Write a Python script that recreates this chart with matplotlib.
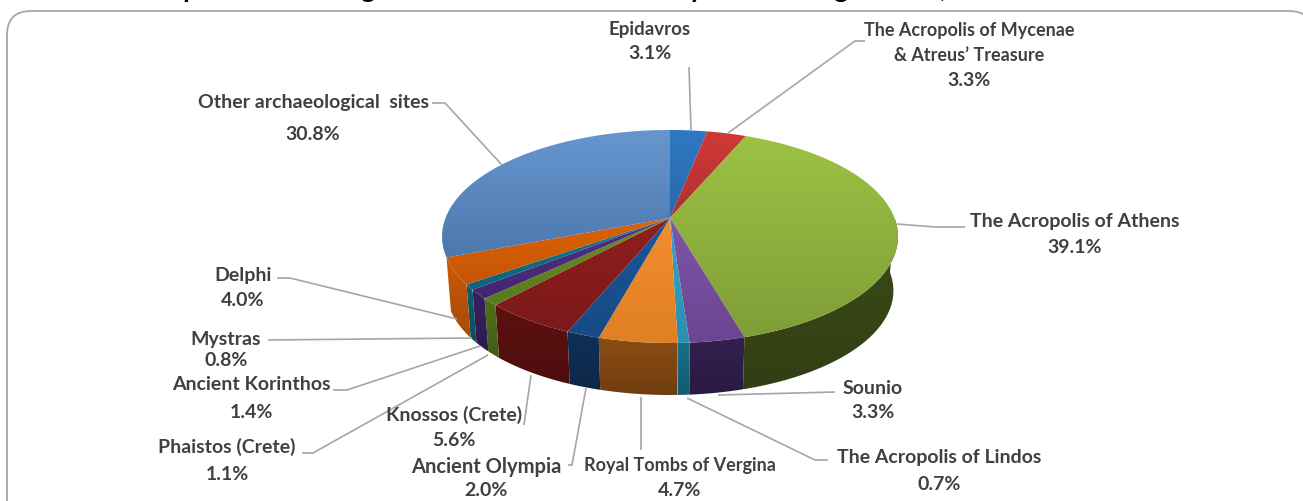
"""Visitors by archaeological site, 3D-look pie with leader lines."""
import matplotlib
matplotlib.use("Agg")
import matplotlib.pyplot as plt
import numpy as np
from matplotlib.colors import to_rgb
from matplotlib.patches import FancyBboxPatch, Polygon

sites = ["Epidavros", "The Acropolis of Mycenae\n& Atreus’ Treasure", "The Acropolis of Athens",
         "Sounio", "The Acropolis of Lindos", "Royal Tombs of Vergina", "Ancient Olympia",
         "Knossos (Crete)", "Phaistos (Crete)", "Ancient Korinthos", "Mystras", "Delphi",
         "Other archaeological  sites"]
shares = [3.1, 3.3, 39.1, 3.3, 0.7, 4.7, 2.0, 5.6, 1.1, 1.4, 0.8, 4.0, 30.8]

top_light = ["#2f78c4", "#cf3a38", "#9cc243", "#7f55aa", "#35a6c8", "#f48e2e", "#1a5699",
             "#8f1f1f", "#6b8e23", "#52308a", "#10788f", "#dc6206", "#6796cf"]
top_dark = ["#2a68a8", "#b03030", "#7f9e38", "#6a4590", "#2c8fae", "#e07f25", "#164a85",
            "#7c1919", "#5a7a1c", "#442670", "#0c6478", "#c45505", "#4c78ad"]
wall = ["#1f4f80", "#802020", "#3c4c18", "#33204f", "#17708a", "#8a4c14", "#0f3058",
        "#5e1010", "#50701c", "#38205f", "#0e5f70", "#cc5a08", "#3a5f8c"]

# label anchor (centre x, first line y, line gap, name font size), all in image pixels
label_pos = [(650, 29, 24, 13.5), (969, 30, 25, 13), (1075, 221, 26, 14), (873, 389, 23, 14),
             (939, 457, 27, 14), (680, 466, 24, 13), (486, 467, 24, 14.5), (454, 415, 26, 14),
             (227, 447, 27, 14), (251, 385, 27, 14), (226, 339, 22, 14), (243, 276, 24, 14),
             (313, 102, 32, 14)]
leaders = [[(689, 67), (691, 130)],
           [(865, 41), (855, 41), (728, 133)],
           [(965, 227), (935, 227), (897, 224)],
           [(835, 392), (718, 395)],
           [(828, 460), (815, 460), (687, 398)],
           [(641, 397), (641, 450)],
           [(586, 388), (572, 465), (568, 465)],
           [(531, 375), (524, 425)],
           [(302, 453), (313, 453), (488, 355)],
           [(333, 390), (347, 390), (480, 346)],
           [(268, 340), (472, 338)],
           [(277, 278), (290, 278), (457, 319)],
           [(432, 103), (445, 103), (502, 165)]]

# pieces of the title that survive the crop at the top edge
title_bits = [("p", 190), ("g", 368), ("y", 696), ("g", 841), (",", 943)]

INK = "#404040"
LEADER = "#a6a6a6"

CX, CY = 670, 218
A, B, K = 224.5, 103.3, 0.1737
DEPTH_S, DEPTH_Y = 0.98, 272.5

plt.rcParams["font.family"] = ["Lato", "DejaVu Sans"]

fig = plt.figure(figsize=(13.03, 5.01), dpi=100)
ax = fig.add_axes([0, 0, 1, 1])
ax.set_xlim(0, 1303)
ax.set_ylim(501, 0)
ax.axis("off")


def rim(t, scale=1.0, y0=CY):
    # t = fraction clockwise from 12 o'clock, projected with a bit of perspective
    ang = np.asarray(t) * 2 * np.pi
    u, v = np.sin(ang), np.cos(ang)
    w = 1 + K * v
    return CX + scale * A * u / w, y0 - scale * B * v / w


def fill_grad(pts, c0, c1):
    pts = np.asarray(pts)
    x0, x1, y0, y1 = pts[:, 0].min(), pts[:, 0].max(), pts[:, 1].min(), pts[:, 1].max()
    ramp = np.linspace(0, 1, 64)[:, None, None]
    img = (1 - ramp) * np.array(to_rgb(c0)) + ramp * np.array(to_rgb(c1))
    patch = Polygon(pts, closed=True, fc="none", ec="none", transform=ax.transData)
    ax.add_patch(patch)
    im = ax.imshow(img, extent=[x0, x1, y1, y0], aspect="auto", interpolation="bilinear", zorder=2)
    im.set_clip_path(patch)


# rounded frame, runs off the right and bottom of the picture
ax.add_patch(FancyBboxPatch((31, 35), 1258, 490, boxstyle="round,pad=24,rounding_size=24",
                            fc="white", ec="#a6a6a6", lw=1.3, zorder=0))

edges = np.concatenate([[0], np.cumsum(shares)]) / sum(shares)

# walls first, front half only; the last slice shows no wall
for i in range(len(shares) - 1):
    t0, t1 = max(edges[i], 0.25), min(edges[i + 1], 0.75)
    if t1 <= t0:
        continue
    t = np.linspace(t0, t1, 60)
    xt, yt = rim(t)
    xb, yb = rim(t, DEPTH_S, DEPTH_Y)
    pts = np.column_stack([np.r_[xt, xb[::-1]], np.r_[yt, yb[::-1]]])
    dark = tuple(0.82 * c for c in to_rgb(wall[i]))
    fill_grad(pts, wall[i], dark)

# top faces
for i in range(len(shares)):
    t = np.linspace(edges[i], edges[i + 1], 120)
    x, y = rim(t)
    pts = np.column_stack([np.r_[CX, x], np.r_[CY, y]])
    fill_grad(pts, top_light[i], top_dark[i])

ax.set_xlim(0, 1303)
ax.set_ylim(501, 0)

for line in leaders:
    xs, ys = zip(*line)
    ax.plot(xs, ys, color=LEADER, lw=1.2, zorder=3, solid_capstyle="butt")

for name, val, (x, y, gap, size) in zip(sites, shares, label_pos):
    rows = name.split("\n")
    for n, row in enumerate(rows):
        ax.text(x, y + n * gap, row, ha="center", va="center", fontsize=size, fontweight="bold",
                color=INK, zorder=4)
    ax.text(x, y + len(rows) * gap, f"{val:.1f}%", ha="center", va="center", fontsize=14,
            fontweight="bold", color=INK, zorder=4)

for ch, x in title_bits:
    ax.text(x, -3, ch, ha="center", va="baseline", fontsize=20, fontweight="bold", color="black")

fig.savefig("out.png", dpi=100, facecolor="white")
